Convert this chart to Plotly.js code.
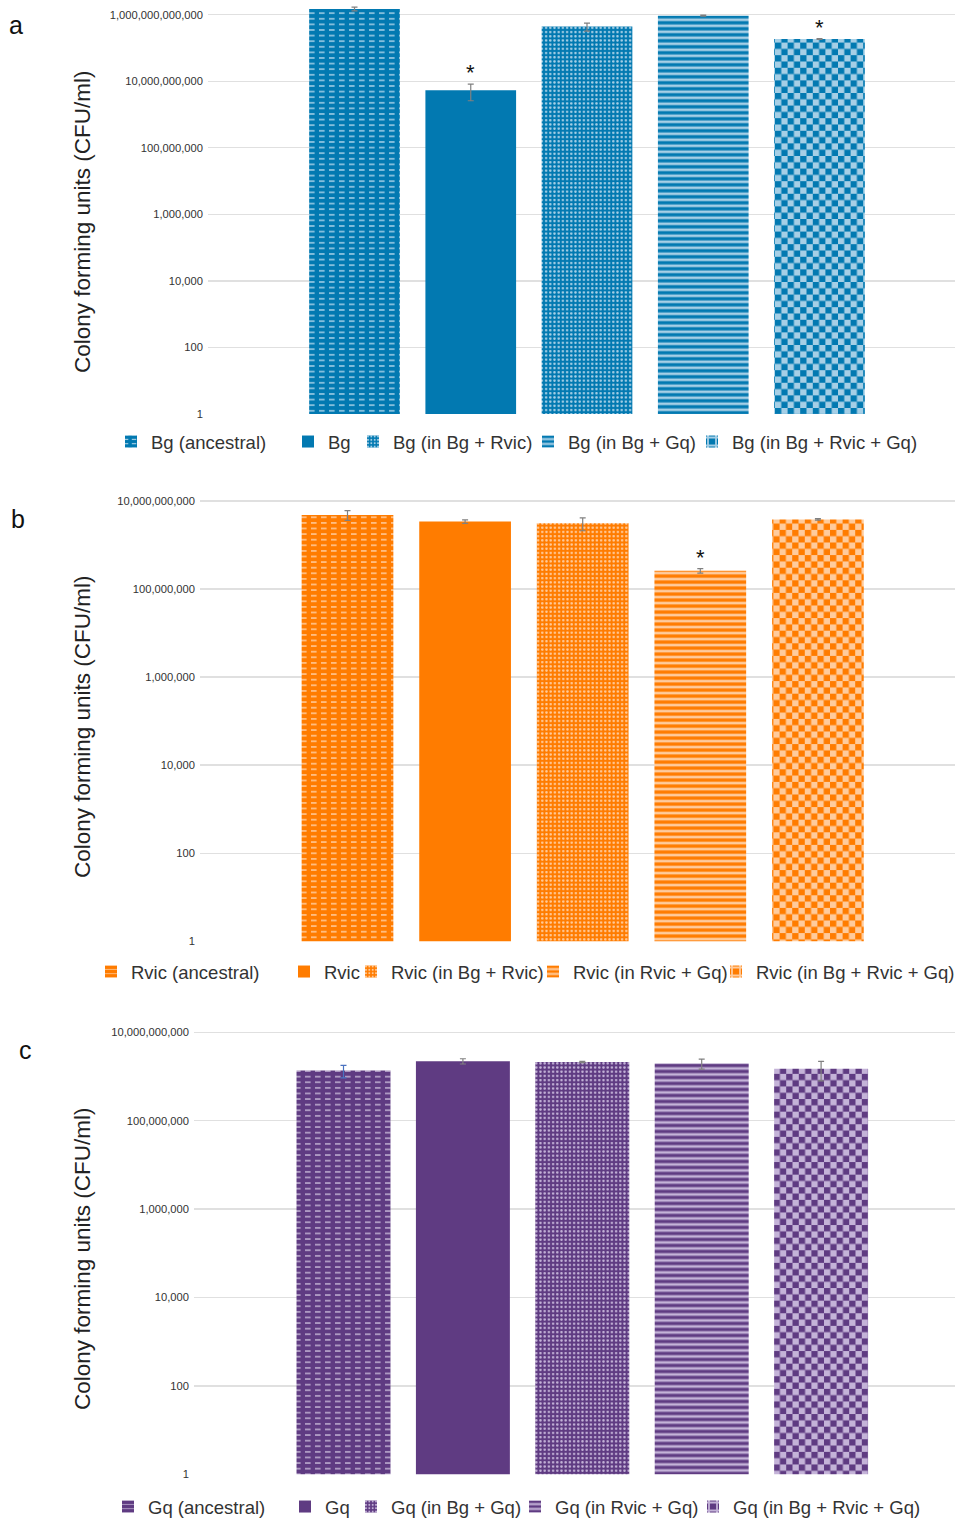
<!DOCTYPE html>
<html><head><meta charset="utf-8">
<script src="https://cdn.plot.ly/plotly-3.0.1.min.js"></script>
<style>html,body{margin:0;padding:0;background:#fff;overflow:hidden}#chart{width:955px;height:1519px}</style>
</head><body><div id="chart"></div>
<script>
// ---------- DATA ----------
const seriesA = ['Bg (ancestral)', 'Bg', 'Bg (in Bg + Rvic)', 'Bg (in Bg + Gq)', 'Bg (in Bg + Rvic + Gq)'];
const valuesA = [1.5e12, 5.4e9, 4.4e11, 9.4e11, 1.87e11];
const errorsA = [0.2e12, 2.8e9, 1.2e11, 0.3e11, 0.05e11];
const starsA  = [false, true, false, false, true];

const seriesB = ['Rvic (ancestral)', 'Rvic', 'Rvic (in Bg + Rvic)', 'Rvic (in Rvic + Gq)', 'Rvic (in Bg + Rvic + Gq)'];
const valuesB = [4.8e9, 3.4e9, 3.1e9, 2.6e8, 3.8e9];
const errorsB = [1.2e9, 0.3e9, 1.0e9, 0.3e8, 0.15e9];
const starsB  = [false, false, false, true, false];

const seriesC = ['Gq (ancestral)', 'Gq', 'Gq (in Bg + Gq)', 'Gq (in Rvic + Gq)', 'Gq (in Bg + Rvic + Gq)'];
const valuesC = [1.36e9, 2.22e9, 2.13e9, 1.97e9, 1.5e9];
const errorsC = [0.43e9, 0.3e9, 0.08e9, 0.5e9, 0.7e9];
const starsC  = [false, false, false, false, false];

const tickValsA = [1, 100, 1e4, 1e6, 1e8, 1e10, 1e12];
const tickTextA = ['1', '100', '10,000', '1,000,000', '100,000,000', '10,000,000,000', '1,000,000,000,000'];
const tickValsBC = [1, 100, 1e4, 1e6, 1e8, 1e10];
const tickTextBC = ['1', '100', '10,000', '1,000,000', '100,000,000', '10,000,000,000'];

const yTitle = 'Colony forming units (CFU/ml)';
const panelLetters = ['a', 'b', 'c'];

// ---------- STYLE / LAYOUT ----------
const W = 955, H = 1519;
const FONT = 'Liberation Sans, Arial, sans-serif';
const py = p => 1 - p / H;

const panels = [
  {names: seriesA, vals: valuesA, errs: errorsA, stars: starsA, tv: tickValsA, tt: tickTextA,
   base: '#0279b1', light: '#a6cfe6', dash: '#c9e3f2', errColors: ['#808080','#808080','#808080','#808080','#808080'],
   xl: 208, bottom: 414, perDec: 33.27, top: 12.3, spacing: 116.25, c0: 354.5, bw: 0.78,
   legX: [151, 328, 393, 568, 732], legY: 442, letterPos: [16, 25], titleY: 222},
  {names: seriesB, vals: valuesB, errs: errorsB, stars: starsB, tv: tickValsBC, tt: tickTextBC,
   base: '#ff7c00', light: '#ffcb9c', dash: '#ffe0c4', errColors: ['#808080','#808080','#808080','#808080','#808080'],
   xl: 200, bottom: 941.3, perDec: 44.04, top: 10.2, spacing: 117.6, c0: 347.5, bw: 0.78,
   legX: [131, 324, 391, 573, 756], legY: 972, letterPos: [18, 519], titleY: 727},
  {names: seriesC, vals: valuesC, errs: errorsC, stars: starsC, tv: tickValsBC, tt: tickTextBC,
   base: '#5f3b82', light: '#c4b3d8', dash: '#d8cce6', errColors: ['#4a72c0','#808080','#808080','#808080','#808080'],
   xl: 194, bottom: 1474.3, perDec: 44.2, top: 10.2, spacing: 119.4, c0: 343.5, bw: 0.787,
   legX: [148, 325, 391, 555, 733], legY: 1507, letterPos: [25, 1050], titleY: 1259}
];

function patternFor(k, p) {
  switch (k) {
    case 0: return {shape: '-', size: 5.5, solidity: 0.2, fgcolor: p.dash, fgopacity: 0.7, bgcolor: p.base, fillmode: 'replace'};
    case 1: return {shape: ''};
    case 2: return {shape: '.', size: 4.2, solidity: 0.28, fgcolor: p.light, fgopacity: 1, bgcolor: p.base, fillmode: 'replace'};
    case 3: return {shape: '-', size: 6, solidity: 0.45, fgcolor: p.light, fgopacity: 1, bgcolor: p.base, fillmode: 'replace'};
    default: return {shape: '+', size: 10, solidity: 0.4, fgcolor: p.light, fgopacity: 1, bgcolor: p.base, fillmode: 'replace'};
  }
}

const traces = [];
const layout = {
  width: W, height: H, paper_bgcolor: '#fff', plot_bgcolor: '#fff',
  margin: {l: 0, r: 0, t: 0, b: 0, autoexpand: false},
  barmode: 'overlay', showlegend: true, annotations: [],
  font: {family: FONT, color: '#333'}
};

let legendIndex = 0;
panels.forEach((p, pi) => {
  const n = pi + 1;
  const xa = 'xaxis' + (n === 1 ? '' : n), ya = 'yaxis' + (n === 1 ? '' : n);
  const xr = 'x' + (n === 1 ? '' : n), yr = 'y' + (n === 1 ? '' : n);
  const lastC = p.c0 + 4 * p.spacing;
  layout[xa] = {
    domain: [p.xl / W, 1], anchor: yr, type: 'category',
    range: [-(p.c0 - p.xl) / p.spacing, 4 + (W - lastC) / p.spacing],
    showticklabels: false, showgrid: false, zeroline: false, showline: false, ticks: '', fixedrange: true
  };
  layout[ya] = {
    domain: [py(p.bottom), py(p.bottom - p.perDec * p.top)], anchor: xr, type: 'log',
    range: [0, p.top], tickmode: 'array', tickvals: p.tv, ticktext: p.tt,
    showgrid: true, gridcolor: '#e0e0e0', gridwidth: 1.3, zeroline: false, showline: false, ticks: '',
    ticklabelstandoff: 4,
    tickfont: {family: FONT, size: 11.2, color: '#333'}, fixedrange: true
  };
  p.names.forEach((name, i) => {
    const lid = legendIndex === 0 ? 'legend' : 'legend' + (legendIndex + 1);
    legendIndex++;
    traces.push({
      type: 'bar', name: name, x: [name], y: [p.vals[i]], width: p.bw,
      xaxis: xr, yaxis: yr, legend: lid, hoverinfo: 'skip',
      marker: {color: p.base, line: {width: 0}, pattern: patternFor(i, p)},
      error_y: {type: 'data', array: [p.errs[i]], visible: true, color: p.errColors[i], thickness: 1.2, width: 3}
    });
    layout[lid] = {
      x: (p.legX[i] - 40) / W, y: py(p.legY), xref: 'paper', yref: 'paper',
      xanchor: 'left', yanchor: 'middle', orientation: 'h', bgcolor: 'rgba(0,0,0,0)', borderwidth: 0,
      font: {family: FONT, size: 18.5, color: '#333'}
    };
    if (p.stars[i]) {
      layout.annotations.push({
        xref: xr, yref: yr, x: name, y: Math.log10(p.vals[i] + p.errs[i]), text: '*',
        showarrow: false, yanchor: 'bottom', yshift: -3, font: {family: FONT, size: 22, color: '#111'}
      });
    }
  });
  layout.annotations.push({
    xref: 'paper', yref: 'paper', x: p.letterPos[0] / W, y: py(p.letterPos[1]), text: panelLetters[pi],
    showarrow: false, xanchor: 'center', yanchor: 'middle', font: {family: FONT, size: 25, color: '#111'}
  });
  layout.annotations.push({
    xref: 'paper', yref: 'paper', x: 82 / W, y: py(p.titleY), text: yTitle, textangle: -90,
    showarrow: false, xanchor: 'center', yanchor: 'middle', font: {family: FONT, size: 22.5, color: '#222'}
  });
});

// Texture refinement: Plotly has no dashed-line or checkerboard fill, so the
// pattern tiles it generated for those series are re-tiled (fill texture only).
function retile(gd) {
  const NS = 'http://www.w3.org/2000/svg';
  const done = new Set();
  function fix(el, trace) {
    if (!el || !trace) return;
    const k = trace.index % 5, p = panels[Math.floor(trace.index / 5)];
    if (k !== 0 && k !== 4) return;
    const m = (el.style.fill || el.getAttribute('fill') || '').match(/#([^"')\s]+)/);
    if (!m) return;
    const pat = document.getElementById(m[1]);
    if (!pat || done.has(pat)) return;
    done.add(pat);
    while (pat.firstChild) pat.removeChild(pat.firstChild);
    const add = (x, y, w, h, c) => {
      const r = document.createElementNS(NS, 'rect');
      r.setAttribute('x', x); r.setAttribute('y', y); r.setAttribute('width', w); r.setAttribute('height', h);
      r.setAttribute('fill', c); pat.appendChild(r);
    };
    if (k === 4) {
      const s = 6.3;
      pat.setAttribute('width', 2 * s + 'px'); pat.setAttribute('height', 2 * s + 'px');
      add(0, 0, 2 * s, 2 * s, p.base);
      add(s, 0, s, s, p.light); add(0, s, s, s, p.light);
    } else {
      pat.setAttribute('width', '10px'); pat.setAttribute('height', '5.6px');
      add(0, 0, 10, 5.6, p.base);
      add(1, 2.2, 5.6, 1.2, p.dash);
    }
  }
  gd.querySelectorAll('.barlayer .trace').forEach(g => {
    const cd = g.__data__; const tr = cd && cd[0] && cd[0].trace;
    g.querySelectorAll('path').forEach(el => fix(el, tr));
  });
  gd.querySelectorAll('.legend .traces').forEach(g => {
    const d = g.__data__; const tr = d && d[0] && d[0].trace;
    g.querySelectorAll('path.legendbar, path').forEach(el => fix(el, tr));
  });
}

Plotly.newPlot('chart', traces, layout, {staticPlot: true, displayModeBar: false}).then(retile);
</script>
</body></html>
